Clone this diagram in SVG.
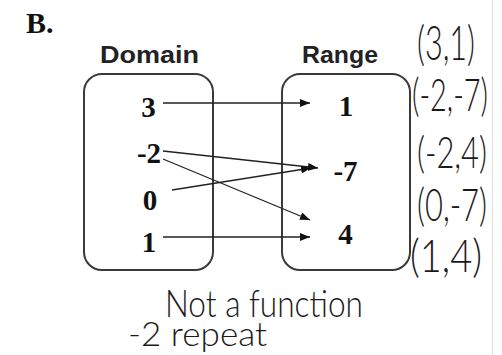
<svg xmlns="http://www.w3.org/2000/svg" width="502" height="355" viewBox="0 0 502 355">
  <style>
    .box { fill: none; stroke: #3a3a3a; stroke-width: 2; }
    .head { font-family: "Liberation Sans", Arial, sans-serif; font-weight: bold; font-size: 23px; fill: #222; }
    .num { font-family: "Liberation Serif", "Times New Roman", serif; font-weight: bold; font-size: 29px; fill: #111; text-anchor: middle; }
    .hand { font-family: "Lato", "Open Sans", sans-serif; font-weight: 300; fill: #1a1a1a; }
    .edge { stroke: #222; stroke-width: 1.3; fill: none; marker-end: url(#arrow); }
  </style>
  <defs>
    <marker id="arrow" viewBox="0 0 10 8" refX="10" refY="4" markerWidth="10" markerHeight="8" markerUnits="userSpaceOnUse" orient="auto">
      <path d="M0,0 L10,4 L0,8 Z" fill="#111"/>
    </marker>
  </defs>

  <rect width="502" height="355" fill="#fff"/>
  <line x1="492.5" y1="0" x2="492.5" y2="355" stroke="#e2e2e2" stroke-width="1"/>

  <text x="26" y="33" font-family="Liberation Serif, Times New Roman, serif" font-weight="bold" font-size="30" fill="#111">B.</text>

  <!-- Domain set -->
  <g id="domain">
    <text class="head" x="100" y="63" textLength="99" lengthAdjust="spacingAndGlyphs">Domain</text>
    <rect class="box" x="84" y="74" width="129" height="196" rx="18"/>
  </g>
  <g id="d-3"><text class="num" x="148.5" y="117">3</text></g>
  <g id="d-neg2"><text class="num" x="149" y="163">-2</text></g>
  <g id="d-0"><text class="num" x="150" y="210">0</text></g>
  <g id="d-1"><text class="num" x="149" y="252">1</text></g>

  <!-- Range set -->
  <g id="range">
    <text class="head" x="302" y="63" textLength="76" lengthAdjust="spacingAndGlyphs">Range</text>
    <rect class="box" x="282" y="74" width="128" height="196" rx="18"/>
  </g>
  <g id="r-1"><text class="num" x="346" y="116">1</text></g>
  <g id="r-neg7"><text class="num" x="345.5" y="181">-7</text></g>
  <g id="r-4"><text class="num" x="345.5" y="244">4</text></g>

  <!-- Mapping arrows -->
  <g id="connectors">
    <line class="edge" x1="163" y1="103" x2="310" y2="103"/>
    <line class="edge" x1="163" y1="151" x2="318" y2="168"/>
    <line class="edge" x1="163" y1="159" x2="310" y2="220"/>
    <line class="edge" x1="172" y1="190" x2="311" y2="168"/>
    <line class="edge" x1="163" y1="237" x2="310" y2="237"/>
  </g>

  <!-- Ordered pairs, hand-lettered: narrowed horizontally -->
  <g id="pairs">
    <text class="hand" transform="translate(417,60) scale(0.6,1)" font-size="48" textLength="96.7" lengthAdjust="spacingAndGlyphs">(3,1)</text>
    <text class="hand" transform="translate(412,111) scale(0.6,1)" font-size="45" textLength="126.7" lengthAdjust="spacingAndGlyphs">(-2,-7)</text>
    <text class="hand" transform="translate(417,168) scale(0.6,1)" font-size="44" textLength="116.7" lengthAdjust="spacingAndGlyphs">(-2,4)</text>
    <text class="hand" transform="translate(417,221) scale(0.6,1)" font-size="46" textLength="116.7" lengthAdjust="spacingAndGlyphs">(0,-7)</text>
    <text class="hand" transform="translate(410,272) scale(0.6,1)" font-size="45" textLength="120" lengthAdjust="spacingAndGlyphs">(1,4)</text>
  </g>

  <!-- Note -->
  <g id="note">
    <text class="hand" x="165" y="317" font-size="38" textLength="198" lengthAdjust="spacingAndGlyphs">Not a function</text>
    <text class="hand" x="128" y="346" font-size="33" textLength="139" lengthAdjust="spacingAndGlyphs">-2 repeat</text>
  </g>
</svg>
